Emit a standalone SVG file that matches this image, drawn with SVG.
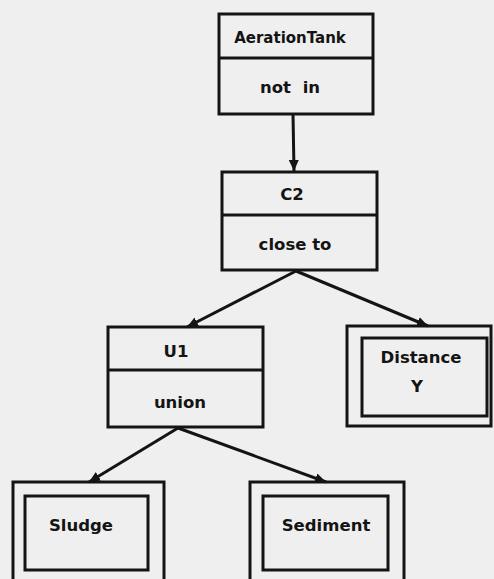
<svg xmlns="http://www.w3.org/2000/svg" width="494" height="579" viewBox="0 0 494 579">
  <style>
    .box { fill: none; stroke: #141414; stroke-width: 3; }
    .edge { fill: none; stroke: #141414; stroke-width: 3; }
    .lbl { font-family: "DejaVu Sans", "Liberation Sans", sans-serif; font-weight: bold; font-size: 16.5px; fill: #141414; text-anchor: middle; }
  </style>
  <defs>
    <marker id="arrow" markerUnits="userSpaceOnUse" markerWidth="12" markerHeight="10" refX="11" refY="5" orient="auto">
      <path d="M0,0 L11,5 L0,10 z" fill="#141414"/>
    </marker>
  </defs>
  <rect width="494" height="579" fill="#efefef"/>

  <g id="connectors">
    <line class="edge" x1="293" y1="114" x2="294" y2="171" marker-end="url(#arrow)"/>
    <line class="edge" x1="296" y1="271" x2="187" y2="327" marker-end="url(#arrow)"/>
    <line class="edge" x1="296" y1="271" x2="428" y2="326" marker-end="url(#arrow)"/>
    <line class="edge" x1="178" y1="428" x2="89" y2="482" marker-end="url(#arrow)"/>
    <line class="edge" x1="178" y1="428" x2="326" y2="482" marker-end="url(#arrow)"/>
  </g>

  <g id="aeration-tank">
    <rect class="box" x="219" y="14" width="154" height="100"/>
    <line class="box" x1="219" y1="58" x2="373" y2="58"/>
    <text class="lbl" x="290" y="43" style="font-size:15px">AerationTank</text>
    <text class="lbl" x="290" y="93" word-spacing="6">not in</text>
  </g>

  <g id="c2">
    <rect class="box" x="222" y="172" width="155" height="98"/>
    <line class="box" x1="222" y1="215" x2="377" y2="215"/>
    <text class="lbl" x="292" y="200">C2</text>
    <text class="lbl" x="295" y="250">close to</text>
  </g>

  <g id="u1">
    <rect class="box" x="108" y="327" width="155" height="100"/>
    <line class="box" x1="108" y1="370" x2="263" y2="370"/>
    <text class="lbl" x="176" y="357">U1</text>
    <text class="lbl" x="180" y="408">union</text>
  </g>

  <g id="distance">
    <rect class="box" x="347" y="326" width="144" height="100"/>
    <rect class="box" x="362" y="338" width="125" height="78"/>
    <text class="lbl" x="421" y="363">Distance</text>
    <text class="lbl" x="417" y="392">Y</text>
  </g>

  <g id="sludge">
    <rect class="box" x="13" y="482" width="151" height="110"/>
    <rect class="box" x="25" y="496" width="123" height="74"/>
    <text class="lbl" x="81" y="531">Sludge</text>
  </g>

  <g id="sediment">
    <rect class="box" x="250" y="482" width="154" height="110"/>
    <rect class="box" x="263" y="496" width="125" height="74"/>
    <text class="lbl" x="326" y="531">Sediment</text>
  </g>
</svg>
